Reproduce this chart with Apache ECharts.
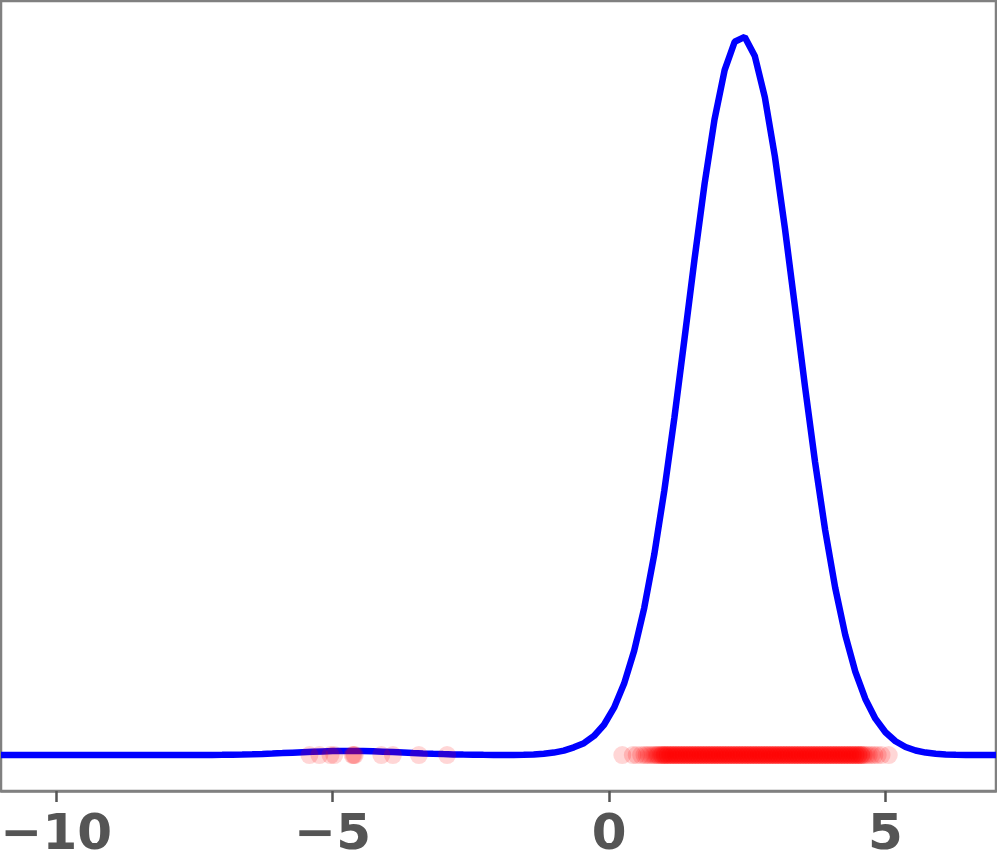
<!DOCTYPE html>
<html>
<head>
<meta charset="utf-8">
<script src="https://cdn.jsdelivr.net/npm/echarts@6/dist/echarts.min.js"></script>
<style>
html,body{margin:0;padding:0;background:#fff;}
#chart{width:997px;height:865px;}
</style>
</head>
<body>
<div id="chart"></div>
<script>
// Curve sample positions: 100 points from -11 to 7
const curveStart = -11;
const curveEnd = 7;
const curveDensity = [
0,0,0,0,0,0,0,0,0,0,
0,0,0,0,0,0,0,0,0.00002,0.00004,
0.00007,0.00011,0.00016,0.00024,0.00035,0.00049,0.00067,0.00087,0.00111,0.00136,
0.00161,0.00185,0.00205,0.00220,0.00228,0.00230,0.00223,0.00210,0.00191,0.00168,
0.00143,0.00118,0.00094,0.00073,0.00054,0.00039,0.00027,0.00018,0.00012,0.00008,
0.00008,0.00010,0.00016,0.00032,0.00080,0.00140,0.00250,0.00430,0.00660,0.01060,
0.01682,0.02626,0.03962,0.05780,0.08155,0.11121,0.14664,0.18694,0.23043,0.27464,
0.31641,0.35248,0.37963,0.39532,0.39799,0.38740,0.36458,0.33172,0.29182,0.24821,
0.20408,0.16227,0.12472,0.09271,0.06661,0.04628,0.03109,0.02018,0.01267,0.00769,
0.00451,0.00256,0.00140,0.00075,0.00038,0.00019,0.00009,0.00004,0.00002,0.00001
];

// Sample points (drawn along y = 0)
const pointsLeft = [-5.42,-5.24,-5.04,-4.97,-4.64,-4.62,-4.60,-4.12,-3.91,-3.44,-2.93];
const pointsMain = [
0.24,0.43,0.50,0.58,0.64,0.68,0.72,0.76,0.80,0.83,0.86,0.88,
0.90,0.93,0.95,0.98,1.00,1.02,1.05,1.07,1.10,1.12,1.15,1.17,1.20,1.22,1.25,1.27,1.30,1.32,1.35,1.37,
1.40,1.42,1.45,1.47,1.50,1.52,1.55,1.57,1.60,1.62,1.65,1.67,1.70,1.72,1.75,1.77,1.80,1.82,1.85,1.87,
1.90,1.92,1.95,1.97,2.00,2.02,2.05,2.07,2.10,2.12,2.15,2.17,2.20,2.22,2.25,2.27,2.30,2.32,2.35,2.37,
2.40,2.42,2.45,2.47,2.50,2.52,2.55,2.57,2.60,2.62,2.65,2.67,2.70,2.72,2.75,2.77,2.80,2.82,2.85,2.87,
2.90,2.92,2.95,2.97,3.00,3.02,3.05,3.07,3.10,3.12,3.15,3.17,3.20,3.22,3.25,3.27,3.30,3.32,3.35,3.37,
3.40,3.42,3.45,3.47,3.50,3.52,3.55,3.57,3.60,3.62,3.65,3.67,3.70,3.72,3.75,3.77,3.80,3.82,3.85,3.87,
3.90,3.92,3.95,3.97,4.00,4.02,4.05,4.07,4.10,4.12,4.15,4.17,4.20,4.22,4.25,4.27,4.30,4.32,4.35,4.37,
4.40,4.42,4.45,4.47,4.50,4.52,4.55,4.57,4.60,
4.62,4.66,4.70,4.75,4.80,4.86,4.93,5.06
];
const pointsMainExtra = [
0.96,1.01,1.06,1.11,1.16,1.21,1.26,1.31,1.36,1.41,1.46,1.51,1.56,1.61,1.66,1.71,1.76,1.81,1.86,1.91,
1.96,2.01,2.06,2.11,2.16,2.21,2.26,2.31,2.36,2.41,2.46,2.51,2.56,2.61,2.66,2.71,2.76,2.81,2.86,2.91,
2.96,3.01,3.06,3.11,3.16,3.21,3.26,3.31,3.36,3.41,3.46,3.51,3.56,3.61,3.66,3.71,3.76,3.81,3.86,3.91,
3.96,4.01,4.06,4.11,4.16,4.21,4.26,4.31,4.36,4.41,4.46,4.51,4.56
];

const tickValues = [-10, -5, 0, 5];
const tickLabels = ['\u221210', '\u22125', '0', '5'];

const xMin = -11, xMax = 7;
const peak = Math.max(...curveDensity);
const yMin = -0.05 * peak, yMax = 1.05 * peak;

const step = (curveEnd - curveStart) / (curveDensity.length - 1);
const curveData = curveDensity.map((v, i) => [curveStart + i * step, v]);
const pointData = pointsLeft.concat(pointsMain, pointsMainExtra).map(x => [x, 0]);

const chart = echarts.init(document.getElementById('chart'), null, {renderer: 'canvas'});
chart.setOption({
  animation: false,
  backgroundColor: '#ffffff',
  grid: {
    left: 1, right: 1, top: 1, bottom: 74,
    containLabel: false, outerBoundsMode: 'none',
    show: true, borderColor: '#808080', borderWidth: 2.5, backgroundColor: 'transparent'
  },
  xAxis: {
    type: 'value', min: xMin, max: xMax,
    axisLine: {show: true, onZero: false, lineStyle: {color: '#808080', width: 2.5}},
    axisTick: {show: true, customValues: tickValues, length: 11, lineStyle: {color: '#555555', width: 2.5}},
    axisLabel: {
      show: true, customValues: tickValues, margin: 20, hideOverlap: false,
      formatter: v => tickLabels[tickValues.indexOf(v)] ?? '',
      fontFamily: 'DejaVu Sans', fontWeight: 'bold', fontSize: 50, color: '#555555'
    },
    splitLine: {show: false}
  },
  yAxis: {
    type: 'value', min: yMin, max: yMax, show: false,
    splitLine: {show: false}
  },
  series: [
    {
      type: 'line', data: curveData, showSymbol: false, symbol: 'none', smooth: false,
      lineStyle: {color: '#0000ff', width: 6.5}, z: 2
    },
    {
      type: 'scatter', data: pointData, symbol: 'circle', symbolSize: 18,
      itemStyle: {color: 'rgba(255,0,0,0.2)', borderWidth: 0}, z: 3
    }
  ]
});
</script>
</body>
</html>
